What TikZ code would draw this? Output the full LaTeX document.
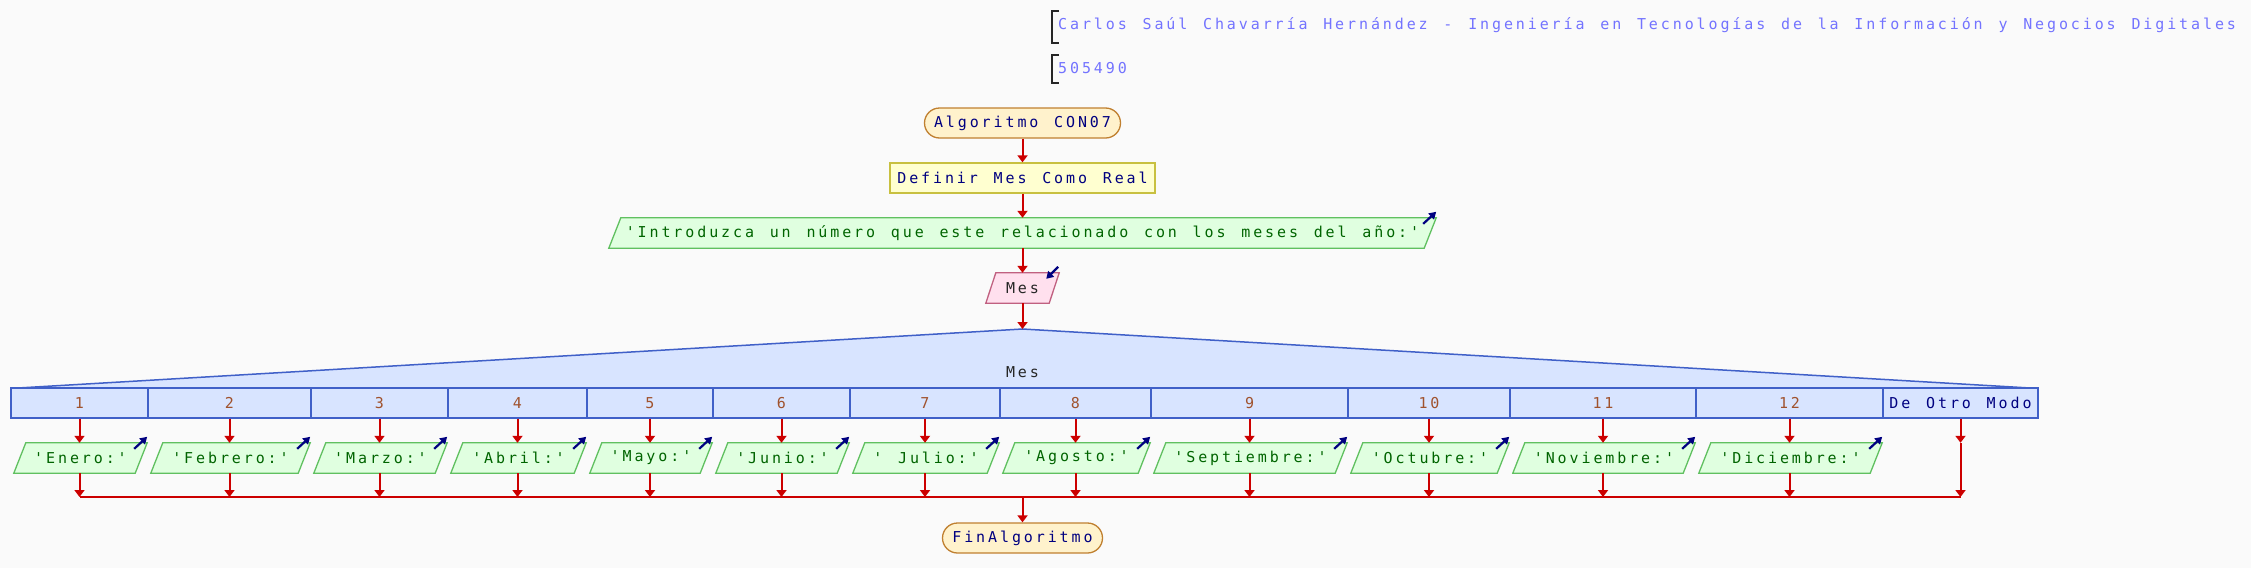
\documentclass[tikz,border=0pt]{standalone}
\usepackage{fontspec}
\usetikzlibrary{arrows.meta,backgrounds}
\newfontfamily\psf[LetterSpace=19.3,WordSpace={1.32,0,0}]{DejaVu Sans Mono}
\definecolor{bgc}{RGB}{250,250,250}
\definecolor{arr}{RGB}{204,0,0}
\definecolor{navyc}{RGB}{0,0,128}
\definecolor{termfill}{RGB}{255,242,204}
\definecolor{termdraw}{RGB}{192,128,48}
\definecolor{deffill}{RGB}{255,255,208}
\definecolor{defdraw}{RGB}{200,192,64}
\definecolor{outfill}{RGB}{224,255,224}
\definecolor{outdraw}{RGB}{96,192,96}
\definecolor{outtext}{RGB}{0,100,0}
\definecolor{infill}{RGB}{255,224,238}
\definecolor{indraw}{RGB}{192,96,128}
\definecolor{swfill}{RGB}{216,228,255}
\definecolor{swdraw}{RGB}{64,96,200}
\definecolor{casetext}{RGB}{160,82,45}
\definecolor{hdrtext}{RGB}{115,115,255}
\newcommand\drawpgram[3]{%
  \begin{scope}[on background layer]
  \path[#2] ([xshift=#3 pt]#1.north west) -- (#1.north east) -- ([xshift=-#3 pt]#1.south east) -- (#1.south west) -- cycle;
  \end{scope}}
\begin{document}
\begin{tikzpicture}[x=1pt,y=-1pt,
  font=\psf\fontsize{15}{18}\selectfont,
  term/.style={draw=termdraw, fill=termfill, line width=1.3pt, rounded corners=15pt, minimum height=30pt, inner sep=0pt, text=navyc},
  defbox/.style={draw=defdraw, fill=deffill, line width=1.3pt, minimum height=30pt, inner sep=0pt, text=navyc},
  iotext/.style={minimum height=30pt, inner sep=0pt},
  outtxt/.style={iotext, text=outtext},
  outshape/.style={draw=outdraw, fill=outfill, line width=1.3pt},
  inshape/.style={draw=indraw, fill=infill, line width=1.3pt},
  cell/.style={draw=swdraw, fill=swfill, line width=1.3pt, minimum height=30pt, inner sep=0pt, text=casetext},
  flow/.style={draw=arr, line width=2pt, -{Triangle[width=10pt,length=7pt]}},
  flowline/.style={draw=arr, line width=2pt},
  ioarrow/.style={draw=navyc, line width=2.2pt, -{Triangle[width=8pt,length=7pt]}},
  hdr/.style={anchor=west, text=hdrtext, inner sep=0pt},
  brk/.style={draw=black!85, line width=1.3pt}
]
\begin{scope}[on background layer]
\fill[bgc] (0,0) rectangle (2251,568);
\end{scope}
\useasboundingbox (0,0) rectangle (2251,568);

% header
\draw[brk] (1059,11) -- (1052,11) -- (1052,43) -- (1059,43);
\node[hdr] (h1) at (1058,25) {Carlos Saúl Chavarría Hernández - Ingeniería en Tecnologías de la Información y Negocios Digitales};
\draw[brk] (1059,55) -- (1052,55) -- (1052,83) -- (1059,83);
\node[hdr] (h2) at (1058,68) {505490};

% main column
\node[term, minimum width=196pt] (start) at (1022.5,123) {Algoritmo CON07};
\node[defbox, minimum width=265pt] (def) at (1022.5,178) {Definir Mes Como Real};
\node[outtxt, minimum width=827pt] (intro) at (1022.5,233) {'Introduzca un número que este relacionado con los meses del año:'};
\drawpgram{intro}{outshape}{12}
\node[iotext, minimum width=73pt, text=black!85] (read) at (1022.5,288) {Mes};
\drawpgram{read}{inshape}{10}

\draw[flow] (start.south) -- (start.south |- def.north);
\draw[flow] (def.south) -- (def.south |- intro.north);
\draw[flow] (intro.south) -- (intro.south |- read.north);
\draw[ioarrow] ([shift={(-13,6)}]intro.north east) -- ([shift={(0,-6)}]intro.north east);
\draw[ioarrow] ([shift={(-1,-6)}]read.north east) -- ([shift={(-13,6)}]read.north east);

% switch
\coordinate (swtop) at (1022.5,329);
\fill[swfill] (18,388) -- (swtop) -- (2030,388) -- cycle;
\draw[swdraw, line width=1.5pt] (18,388) -- (swtop) -- (2030,388);
\node[text=black!85] (swlabel) at (1022.5,372) {Mes};
\draw[flow] (read.south) -- (swtop);

\node[cell, minimum width=137pt] (c1) at (79.5,403) {1};
\node[cell, minimum width=163pt] (c2) at (229.5,403) {2};
\node[cell, minimum width=137pt] (c3) at (379.5,403) {3};
\node[cell, minimum width=139pt] (c4) at (517.5,403) {4};
\node[cell, minimum width=126pt] (c5) at (650,403) {5};
\node[cell, minimum width=137pt] (c6) at (781.5,403) {6};
\node[cell, minimum width=150pt] (c7) at (925,403) {7};
\node[cell, minimum width=151pt] (c8) at (1075.5,403) {8};
\node[cell, minimum width=197pt] (c9) at (1249.5,403) {9};
\node[cell, minimum width=162pt] (c10) at (1429,403) {10};
\node[cell, minimum width=186pt] (c11) at (1603,403) {11};
\node[cell, minimum width=187pt] (c12) at (1789.5,403) {12};
\node[cell, minimum width=155pt, text=navyc] (c13) at (1960.5,403) {De Otro Modo};

% outputs
\node[outtxt, minimum width=133pt] (o1) at (80.5,458) {'Enero:'};
\node[outtxt, minimum width=159pt] (o2) at (230.5,458) {'Febrero:'};
\node[outtxt, minimum width=133pt] (o3) at (380.5,458) {'Marzo:'};
\node[outtxt, minimum width=135pt] (o4) at (518.5,458) {'Abril:'};
\node[outtxt, minimum width=122pt] (o5) at (651,458) {'Mayo:'};
\node[outtxt, minimum width=133pt] (o6) at (782.5,458) {'Junio:'};
\node[outtxt, minimum width=146pt] (o7) at (926,458) {' Julio:'};
\node[outtxt, minimum width=147pt] (o8) at (1076.5,458) {'Agosto:'};
\node[outtxt, minimum width=193pt] (o9) at (1250.5,458) {'Septiembre:'};
\node[outtxt, minimum width=158pt] (o10) at (1430,458) {'Octubre:'};
\node[outtxt, minimum width=182pt] (o11) at (1604,458) {'Noviembre:'};
\node[outtxt, minimum width=183pt] (o12) at (1790.5,458) {'Diciembre:'};

\coordinate (mL) at (79.5,497);
\coordinate (mR) at (1960.5,497);
\coordinate (mC) at (1022.5,497);

\foreach \i in {1,...,12} {
  \drawpgram{o\i}{outshape}{12}
  \draw[flow] (c\i.south) -- (c\i.south |- o\i.north);
  \draw[flow] (c\i.south |- o\i.south) -- (c\i.south |- mL);
  \draw[ioarrow] ([shift={(-13,6)}]o\i.north east) -- ([shift={(0,-6)}]o\i.north east);
}
\draw[flow] (c13.south) -- (c13.south |- o1.north);
\draw[flow] (c13.south |- o1.north) -- (mR);
\draw[flowline] (mL) -- (mR);

\node[term, minimum width=160pt] (fin) at (1022.5,538) {FinAlgoritmo};
\draw[flow] (mC) -- (fin.north);
\end{tikzpicture}
\end{document}
